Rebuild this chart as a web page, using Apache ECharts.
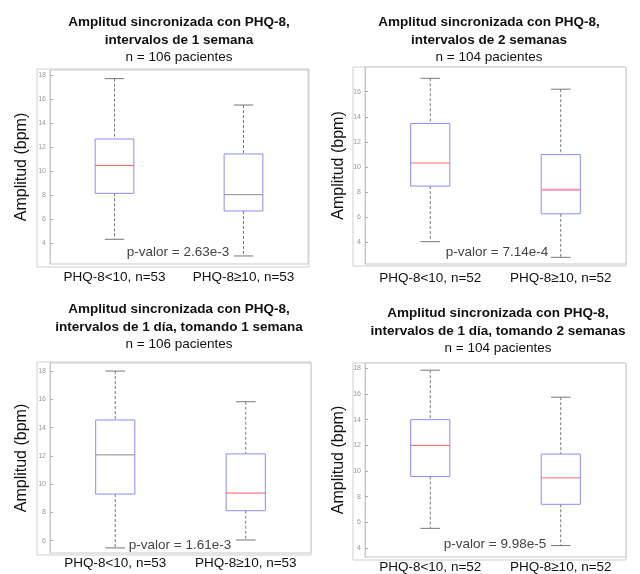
<!DOCTYPE html>
<html>
<head>
<meta charset="utf-8">
<script src="https://cdn.jsdelivr.net/npm/echarts@6/dist/echarts.min.js"></script>
<style>html,body{margin:0;padding:0;background:#fff;}#c{width:640px;height:574px;}</style>
</head>
<body>
<div id="c"></div>
<script>
// ---- data ----
const titleLine1 = ['Amplitud sincronizada con PHQ-8,', 'Amplitud sincronizada con PHQ-8,', 'Amplitud sincronizada con PHQ-8,', 'Amplitud sincronizada con PHQ-8,'];
const titleLine2 = ['intervalos de 1 semana', 'intervalos de 2 semanas', 'intervalos de 1 día, tomando 1 semana', 'intervalos de 1 día, tomando 2 semanas'];
const subtitles = ['n = 106 pacientes', 'n = 104 pacientes', 'n = 106 pacientes', 'n = 104 pacientes'];
const pValues = ['p-valor = 2.63e-3', 'p-valor = 7.14e-4', 'p-valor = 1.61e-3', 'p-valor = 9.98e-5'];
const yAxisName = 'Amplitud (bpm)';

const categories1 = ['PHQ-8<10, n=53', 'PHQ-8≥10, n=53'];
const categories2 = ['PHQ-8<10, n=52', 'PHQ-8≥10, n=52'];
const categories3 = ['PHQ-8<10, n=53', 'PHQ-8≥10, n=53'];
const categories4 = ['PHQ-8<10, n=52', 'PHQ-8≥10, n=52'];

// [lower whisker, Q1, median, Q3, upper whisker]
const boxes1 = [[4.31, 8.14, 10.47, 12.67, 17.7], [2.92, 6.67, 8.03, 11.42, 15.5]];
const boxes2 = [[4.05, 8.48, 10.32, 13.47, 17.07], [2.8, 6.27, 8.19, 10.99, 16.2]];
const boxes3 = [[5.49, 9.3, 12.07, 14.54, 18.0], [6.05, 8.12, 9.37, 12.14, 15.83]];
const boxes4 = [[5.54, 9.57, 12.0, 14.0, 17.85], [4.2, 7.41, 9.47, 11.32, 15.75]];

const yTicks1 = [4, 6, 8, 10, 12, 14, 16, 18];
const yTicks2 = [4, 6, 8, 10, 12, 14, 16];
const yTicks3 = [6, 8, 10, 12, 14, 16, 18];
const yTicks4 = [4, 6, 8, 10, 12, 14, 16, 18];

const yRanges = [[2.25, 18.42], [2.27, 17.97], [5.13, 18.57], [3.31, 18.41]];

// ---- layout & style ----
const grids = [
  {left: 50, top: 70, width: 258, height: 194},
  {left: 365, top: 67, width: 261, height: 197},
  {left: 50, top: 363, width: 261, height: 190},
  {left: 365, top: 363, width: 261, height: 196}
];
const frames = [
  [37, 69, 272, 198],
  [353, 67, 273, 199],
  [37, 362, 274, 193],
  [353, 363, 273, 197]
];
const titlePos = [[179, 14], [489, 14], [179, 301], [498, 305]];
const pPos = [[178, 244], [497, 244], [180, 537], [495, 536]];
const nameGaps = [20, 18, 20, 18];
const labelMargins = [6, 7, 3, 3];
const medianStyles = [
  [{c: '#ff5a5a', w: 1}, {c: '#8a8a9a', w: 1}],
  [{c: '#ff6a6a', w: 1}, {c: '#ff8fb0', w: 2}],
  [{c: '#8a8a9a', w: 1}, {c: '#ff5a5a', w: 1}],
  [{c: '#ff5a5a', w: 1}, {c: '#ff6a80', w: 1}]
];

const allCats = [categories1, categories2, categories3, categories4];
const allBoxes = [boxes1, boxes2, boxes3, boxes4];
const allTicks = [yTicks1, yTicks2, yTicks3, yTicks4];

const FONT = '"Liberation Sans", Arial, sans-serif';

function makeRender(panel) {
  return function (params, api) {
    const idx = api.value(0);
    const v = [api.value(1), api.value(2), api.value(3), api.value(4), api.value(5)];
    const p = v.map(val => api.coord([idx, val]));
    const cx = p[0][0];
    const bw = api.size([1, 0])[0] * 0.3;
    const cw = bw / 2;
    const ms = medianStyles[panel][idx];
    const whisk = {stroke: '#777', lineWidth: 1, lineDash: [3, 2]};
    const cap = {stroke: '#777', lineWidth: 1};
    return {
      type: 'group',
      children: [
        {type: 'line', shape: {x1: cx, y1: p[4][1], x2: cx, y2: p[3][1]}, style: whisk},
        {type: 'line', shape: {x1: cx, y1: p[1][1], x2: cx, y2: p[0][1]}, style: whisk},
        {type: 'line', shape: {x1: cx - cw / 2, y1: p[4][1], x2: cx + cw / 2, y2: p[4][1]}, style: cap},
        {type: 'line', shape: {x1: cx - cw / 2, y1: p[0][1], x2: cx + cw / 2, y2: p[0][1]}, style: cap},
        {type: 'rect', shape: {x: cx - bw / 2, y: p[3][1], width: bw, height: p[1][1] - p[3][1]},
          style: {fill: 'rgba(255,255,255,0)', stroke: '#8c8cf5', lineWidth: 1}},
        {type: 'line', shape: {x1: cx - bw / 2, y1: p[2][1], x2: cx + bw / 2, y2: p[2][1]},
          style: {stroke: ms.c, lineWidth: ms.w}}
      ]
    };
  };
}

const option = {
  backgroundColor: '#fff',
  animation: false,
  title: [],
  grid: [],
  xAxis: [],
  yAxis: [],
  series: [],
  graphic: []
};

for (let i = 0; i < 4; i++) {
  option.grid.push(Object.assign({show: true, borderColor: '#c8c8c8', borderWidth: 1, backgroundColor: '#fff'}, grids[i]));
  option.graphic.push({
    type: 'rect', z: -1, silent: true,
    shape: {x: frames[i][0], y: frames[i][1], width: frames[i][2], height: frames[i][3]},
    style: {fill: '#fff', stroke: '#cfcfcf', lineWidth: 1}
  });
  option.xAxis.push({
    type: 'category', gridIndex: i, data: allCats[i], boundaryGap: true,
    axisLine: {show: false}, axisTick: {show: false},
    axisLabel: {color: '#111', fontSize: 13.5, fontFamily: FONT, margin: labelMargins[i],
      interval: 0, hideOverlap: false}
  });
  option.yAxis.push({
    type: 'value', gridIndex: i, min: yRanges[i][0], max: yRanges[i][1],
    name: yAxisName, nameLocation: 'middle', nameGap: nameGaps[i],
    nameTextStyle: {fontSize: 16, color: '#111', fontFamily: FONT},
    splitLine: {show: false},
    axisLine: {show: true, lineStyle: {color: '#c8c8c8'}},
    axisTick: {show: true, inside: true, length: 3, lineStyle: {color: '#aaa'}, customValues: allTicks[i]},
    axisLabel: {fontSize: 7, color: '#999', margin: 4, fontFamily: FONT, customValues: allTicks[i]}
  });
  option.series.push({
    type: 'custom', xAxisIndex: i, yAxisIndex: i,
    renderItem: makeRender(i),
    encode: {x: 0, y: [1, 2, 3, 4, 5]},
    data: allBoxes[i].map((b, k) => [k].concat(b)),
    z: 5
  });
  option.title.push({
    text: titleLine1[i] + '\n' + titleLine2[i],
    subtext: subtitles[i],
    left: titlePos[i][0], top: titlePos[i][1], textAlign: 'center',
    itemGap: 0, padding: 0,
    textStyle: {fontSize: 13.5, fontWeight: 'bold', color: '#111', lineHeight: 17.5, fontFamily: FONT},
    subtextStyle: {fontSize: 13.5, color: '#111', lineHeight: 17, fontFamily: FONT}
  });
  option.title.push({
    text: pValues[i],
    left: pPos[i][0], top: pPos[i][1], textAlign: 'center', padding: 0,
    textStyle: {fontSize: 13.5, fontWeight: 'normal', color: '#444', lineHeight: 16, fontFamily: FONT}
  });
}

const chart = echarts.init(document.getElementById('c'), null, {renderer: 'canvas'});
chart.setOption(option);
</script>
</body>
</html>
